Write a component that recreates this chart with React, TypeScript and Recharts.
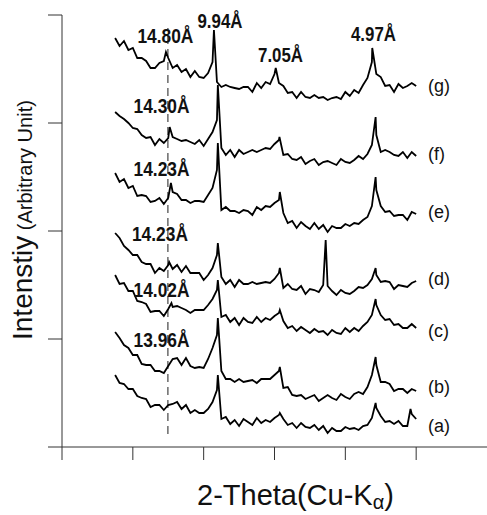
import { LineChart, Line, XAxis, YAxis, ReferenceLine, ReferenceDot } from "recharts";

// 2-theta sampling positions (degrees)
const twoTheta = [
  3, 3.25, 3.5, 3.75, 4, 4.25, 4.5, 4.75, 5, 5.25, 5.5, 5.75, 6, 6.25, 6.5, 6.75, 7, 7.25, 7.5, 7.75,
  8, 8.25, 8.5, 8.75, 9, 9.25, 9.5, 9.75, 10, 10.25, 10.5, 10.75, 11, 11.25, 11.5, 11.75, 12, 12.25,
  12.5, 12.75, 13, 13.25, 13.5, 13.75, 14, 14.25, 14.5, 14.75, 15, 15.25, 15.5, 15.75, 16, 16.25,
  16.5, 16.75, 17, 17.25, 17.5, 17.75, 18, 18.25, 18.5, 18.75, 19, 19.25, 19.5, 19.75, 20,
];

// stacked intensities (arbitrary units, offsets included)
const baseG = [
  409, 401, 406, 397, 399, 389, 389, 386, 379, 379, 384, 386, 389, 379, 382, 375, 378, 370, 376, 370,
  369, 374, 385, 365, 360, 362, 360, 359, 358, 360, 360, 355, 364, 359, 365, 363, 373, 364, 361, 354,
  355, 349, 355, 350, 349, 352, 349, 350, 347, 349, 350, 348, 355, 351, 357, 354, 362, 369, 385, 373,
  370, 361, 362, 355, 363, 359, 361, 364, 361,
];
const peaksG = [[5.87, 395], [8.58, 417], [12.07, 379], [17.52, 399]];

const baseF = [
  335, 331, 328, 324, 319, 318, 312, 309, 310, 302, 308, 304, 309, 310, 308, 306, 307, 305, 303, 307,
  301, 308, 315, 327, 299, 292, 297, 290, 297, 293, 295, 297, 295, 297, 299, 298, 303, 307, 292, 293,
  288, 287, 290, 283, 286, 288, 282, 285, 286, 284, 282, 288, 285, 284, 287, 291, 288, 293, 302, 312,
  295, 297, 295, 292, 291, 295, 289, 295, 291,
];
const peaksF = [[6.08, 320], [8.8, 362], [12.28, 310], [17.71, 330]];

const baseE = [
  274, 265, 268, 259, 261, 251, 252, 251, 245, 246, 249, 243, 249, 255, 253, 247, 247, 244, 246, 246,
  245, 252, 259, 277, 237, 240, 236, 236, 234, 237, 236, 232, 240, 237, 241, 240, 244, 247, 234, 224,
  226, 219, 225, 221, 218, 224, 218, 222, 215, 221, 219, 219, 223, 221, 224, 223, 227, 230, 241, 257,
  241, 235, 236, 231, 232, 232, 227, 235, 233,
];
const peaksE = [[6.15, 264], [8.8, 304], [12.3, 255], [17.71, 270]];

const baseD = [
  214, 209, 201, 197, 192, 192, 185, 183, 183, 174, 179, 176, 182, 178, 182, 175, 181, 174, 174, 174,
  167, 172, 179, 192, 170, 163, 167, 160, 167, 163, 163, 165, 163, 164, 165, 164, 168, 174, 159, 163,
  158, 157, 161, 153, 158, 157, 155, 162, 161, 156, 152, 157, 154, 153, 156, 160, 159, 162, 168, 172,
  165, 166, 165, 158, 162, 161, 160, 164, 166,
];
const peaksD = [[6.05, 185], [8.8, 204], [12.3, 179], [14.89, 207], [17.71, 179]];

const baseC = [
  172, 163, 164, 156, 156, 146, 145, 143, 135, 136, 136, 131, 138, 140, 141, 139, 137, 134, 137, 137,
  137, 142, 148, 157, 130, 132, 125, 129, 122, 129, 125, 124, 130, 125, 129, 127, 131, 134, 126, 119,
  121, 116, 120, 117, 114, 118, 115, 116, 112, 117, 114, 113, 119, 115, 119, 116, 121, 125, 132, 142,
  132, 127, 128, 122, 123, 119, 119, 123, 119,
];
const peaksC = [[6.18, 144], [8.8, 167], [12.3, 137], [17.71, 148]];

const baseB = [
  115, 109, 102, 99, 92, 92, 83, 82, 82, 76, 76, 74, 81, 88, 89, 82, 89, 81, 79, 80,
  79, 88, 99, 112, 76, 68, 68, 65, 68, 65, 66, 67, 64, 68, 68, 68, 72, 76, 59, 60,
  52, 51, 52, 48, 50, 52, 46, 49, 52, 49, 47, 53, 50, 48, 53, 55, 53, 60, 72, 82,
  65, 65, 63, 56, 58, 58, 54, 58, 56,
];
const peaksB = [[8.8, 129], [12.3, 80], [17.71, 90]];

const baseA = [
  72, 64, 63, 58, 58, 51, 49, 48, 40, 42, 42, 37, 42, 43, 45, 38, 42, 34, 37, 34,
  34, 38, 45, 57, 28, 30, 23, 27, 21, 28, 25, 22, 29, 24, 27, 25, 29, 32, 28, 22,
  24, 19, 24, 20, 19, 22, 17, 21, 14, 19, 16, 16, 20, 18, 19, 17, 21, 22, 29, 39,
  31, 25, 26, 23, 26, 21, 21, 33, 28,
];
const peaksA = [[8.8, 72], [12.3, 34], [17.71, 44], [19.68, 38]];

const seriesNames = ["(a)", "(b)", "(c)", "(d)", "(e)", "(f)", "(g)"];
const seriesLabelY = [15.5, 54.5, 110.5, 162.5, 229.5, 287.5, 355.5];
const seriesLabelX = 20.67;

const peakLabels = ["14.80Å", "9.94Å", "7.05Å", "4.97Å", "14.30Å", "14.23Å", "14.23Å", "14.02Å", "13.96Å"];
const peakLabelAt = [
  [5.84, 404], [8.92, 419], [12.34, 385], [17.59, 406], [5.62, 334],
  [5.62, 271], [5.53, 206], [5.62, 150], [5.62, 100],
];

const xTicks = [0, 4, 8, 12, 16, 20];
const yTicks = [0, 108, 216, 324, 432];
const dashedAt = 5.98;

type Pt = { x: number; y: number };

function buildTrace(base: number[], peaks: number[][]): Pt[] {
  const pts = base.map((y, i) => ({ x: twoTheta[i], y }));
  peaks.forEach(([x, y]) => pts.push({ x, y }));
  return pts.sort((p, q) => p.x - q.x);
}

const traces = [
  buildTrace(baseA, peaksA),
  buildTrace(baseB, peaksB),
  buildTrace(baseC, peaksC),
  buildTrace(baseD, peaksD),
  buildTrace(baseE, peaksE),
  buildTrace(baseF, peaksF),
  buildTrace(baseG, peaksG),
];

const FONT = "'Liberation Sans', Arial, Helvetica, sans-serif";
const INK = "#111";
const noLabel = () => "";

export default function App() {
  return (
    <div style={{ position: "absolute", left: 0, top: 0, width: 487, height: 515, overflow: "hidden", background: "#fff" }}>
      <LineChart width={487} height={515} margin={{ top: 15, right: 0, bottom: 67, left: 61 }}>
        <XAxis
          type="number"
          dataKey="x"
          domain={[0, 24]}
          ticks={xTicks}
          tickFormatter={noLabel}
          tickSize={13}
          height={1}
          axisLine={{ stroke: "#333" }}
          tickLine={{ stroke: "#333" }}
        />
        <YAxis
          type="number"
          dataKey="y"
          domain={[0, 432]}
          ticks={yTicks}
          tickFormatter={noLabel}
          tickSize={14}
          width={1}
          axisLine={{ stroke: "#333" }}
          tickLine={{ stroke: "#333" }}
        />
        <ReferenceLine
          segment={[{ x: dashedAt, y: 13 }, { x: dashedAt, y: 419 }]}
          stroke="#444"
          strokeWidth={1.2}
          strokeDasharray="8 5"
        />
        {traces.map((data, i) => (
          <Line
            key={seriesNames[i]}
            data={data}
            dataKey="y"
            type="linear"
            dot={false}
            stroke="#000"
            strokeWidth={1.8}
            isAnimationActive={false}
          />
        ))}
        {peakLabels.map((text, i) => (
          <ReferenceDot
            key={"p" + i}
            x={peakLabelAt[i][0]}
            y={peakLabelAt[i][1]}
            r={0}
            shape={(p: any) => (
              <text
                x={p.cx}
                y={p.cy}
                textAnchor="middle"
                fontFamily={FONT}
                fontWeight="bold"
                fontSize={20}
                textLength={text.length > 5 ? 56 : 45}
                lengthAdjust="spacingAndGlyphs"
                fill={INK}
              >
                {text}
              </text>
            )}
          />
        ))}
        {seriesNames.map((name, i) => (
          <ReferenceDot
            key={name}
            x={seriesLabelX}
            y={seriesLabelY[i]}
            r={0}
            shape={(p: any) => (
              <text x={p.cx} y={p.cy} fontFamily={FONT} fontSize={18} fill={INK}>
                {name}
              </text>
            )}
          />
        ))}
      </LineChart>
      <svg width={487} height={515} style={{ position: "absolute", left: 0, top: 0, pointerEvents: "none" }}>
        <text transform="translate(32,340) rotate(-90)" fontFamily={FONT} fill={INK}>
          <tspan fontSize={28}>Intenstiy</tspan>
          <tspan fontSize={20}> (Arbitrary Unit)</tspan>
        </text>
        <text x={197} y={505} fontFamily={FONT} fill={INK} fontSize={29}>
          2-Theta(Cu-K<tspan fontSize={20} dy={4}>α</tspan>
          <tspan dy={-4}>)</tspan>
        </text>
      </svg>
    </div>
  );
}
